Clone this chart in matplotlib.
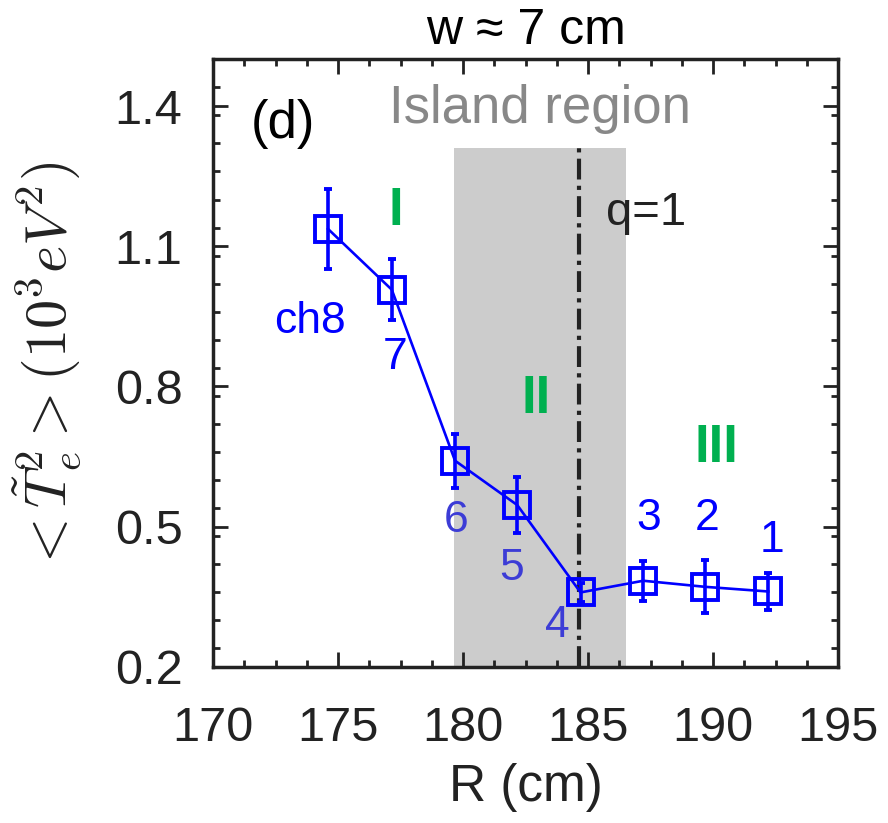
import matplotlib
matplotlib.use('Agg')
import matplotlib.pyplot as plt
from matplotlib.ticker import MultipleLocator
import numpy as np

plt.rcParams['font.family'] = ['Liberation Sans', 'DejaVu Sans']
plt.rcParams['mathtext.fontset'] = 'cm'

# channel positions (cm) and fluctuation level (10^3 eV^2)
R = [174.6, 177.15, 179.68, 182.17, 184.7, 187.21, 189.68, 192.21]
T2 = [1.137, 1.007, 0.641, 0.546, 0.359, 0.384, 0.371, 0.361]
T2_err = [0.085, 0.065, 0.058, 0.06, 0.02, 0.043, 0.057, 0.04]
ch_labels = ['ch8', '7', '6', '5', '4', '3', '2', '1']
ch_label_x = [173.88, 177.28, 179.72, 181.95, 183.79, 187.41, 189.77, 192.35]
ch_label_y = [0.939, 0.862, 0.514, 0.411, 0.289, 0.518, 0.518, 0.47]

island_left, island_right, island_top = 179.65, 186.52, 1.311
q1_R = 184.65

fig = plt.figure(figsize=(8.88, 8.23), dpi=100)
ax = fig.add_axes([0.2399, 0.1899, 0.7038, 0.738])

ax.fill_between([island_left, island_right], 0.2, island_top, color='#cccccc', lw=0, zorder=1)
ax.plot([q1_R, q1_R], [0.2, island_top], color='#222222', lw=3, ls=(0, (5, 1.5, 1, 1.5)), zorder=2)

ax.errorbar(R, T2, yerr=T2_err, color='#0000ff', lw=1.9, elinewidth=2.6, capsize=3, capthick=2.6,
            marker='s', ms=19, mfc='none', mec='#0000ff', mew=2.8, zorder=3)

for lab, lx, ly in zip(ch_labels, ch_label_x, ch_label_y):
    c = '#3c3cd6' if lab in ('4', '5', '6') else '#0000ff'
    ax.text(lx, ly, lab, color=c, fontsize=32, ha='center', va='center', zorder=4)

ax.text(177.32, 1.175, 'I', color='#00b050', fontsize=38, fontweight='bold', ha='center', va='center')
ax.text(182.92, 0.773, 'II', color='#00b050', fontsize=38, fontweight='bold', ha='center', va='center')
ax.text(190.15, 0.669, 'III', color='#00b050', fontsize=38, fontweight='bold', ha='center', va='center')

ax.text(185.7, 1.172, 'q=1', color='#222222', fontsize=34, ha='left', va='center')
ax.text(172.81, 1.361, '(d)', color='black', fontsize=38, ha='center', va='center')
ax.text(183.08, 1.393, 'Island region', color='#888888', fontsize=38, ha='center', va='center')

ax.set_xlim(170, 195)
ax.set_ylim(0.2, 1.5)
ax.set_xticks([170, 175, 180, 185, 190, 195])
ax.set_yticks([0.2, 0.5, 0.8, 1.1, 1.4])
ax.xaxis.set_minor_locator(MultipleLocator(1.25))
ax.yaxis.set_minor_locator(MultipleLocator(0.06))
ax.tick_params(which='both', direction='in', top=True, right=True, width=2, color='#222222')
ax.tick_params(which='major', length=11, labelsize=35, labelcolor='#222222')
ax.tick_params(which='minor', length=5)
ax.tick_params(axis='x', which='major', pad=28)
ax.tick_params(axis='y', which='major', pad=22)
for s in ax.spines.values():
    s.set_linewidth(2.5)
    s.set_color('#222222')

ax.set_xlabel('R (cm)', fontsize=37, color='#222222', labelpad=9)
ax.set_ylabel(r'$<\tilde{T}_e^2>(10^3eV^2)$', fontsize=42, color='#222222')
ax.yaxis.set_label_coords(-0.208, 0.493)
ax.set_title('w ≈ 7 cm', fontsize=36, pad=11)

plt.savefig('out.png', dpi=100)
